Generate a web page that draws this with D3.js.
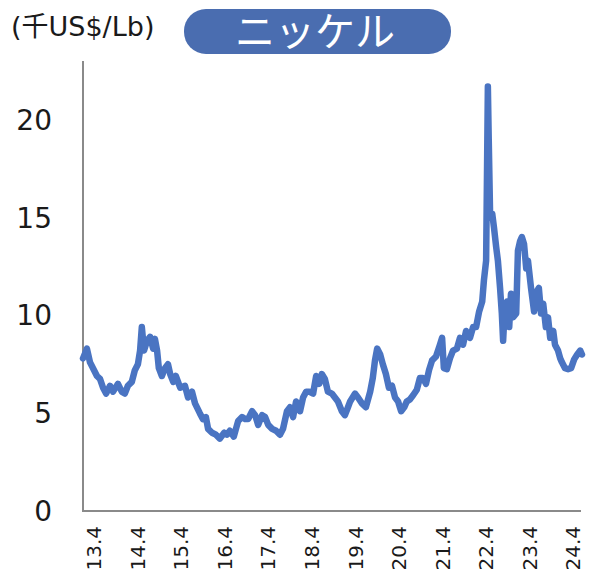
<!DOCTYPE html>
<html><head><meta charset="utf-8">
<script src="https://cdn.jsdelivr.net/npm/d3@7"></script>
<style>
html,body{margin:0;padding:0;background:#fff;}
svg{display:block;}
</style></head>
<body>
<svg id="chart" width="591" height="575"></svg>
<script>
// ---- data ----
const years = [
 2013.00,2013.09,2013.16,2013.23,2013.32,2013.39,2013.46,2013.53,2013.62,2013.69,2013.80,2013.89,2013.96,
 2014.03,2014.12,2014.19,2014.26,2014.31,2014.35,2014.40,2014.47,2014.54,2014.61,2014.65,2014.70,2014.74,2014.81,2014.88,2014.95,
 2015.00,2015.07,2015.13,2015.23,2015.34,2015.41,2015.50,2015.57,2015.68,2015.75,2015.82,2015.87,2015.96,
 2016.05,2016.14,2016.24,2016.30,2016.37,2016.46,2016.56,2016.65,2016.72,2016.79,2016.88,2016.95,
 2017.02,2017.11,2017.18,2017.25,2017.34,2017.43,2017.52,2017.59,2017.68,2017.75,2017.82,2017.89,2017.98,
 2018.05,2018.12,2018.19,2018.28,2018.35,2018.42,2018.48,2018.55,2018.62,2018.71,2018.78,2018.85,2018.94,
 2019.01,2019.08,2019.13,2019.24,2019.31,2019.40,2019.49,2019.59,2019.65,2019.70,2019.75,2019.82,2019.88,2019.95,
 2020.02,2020.09,2020.16,2020.23,2020.30,2020.37,2020.43,2020.50,2020.57,2020.66,2020.73,2020.80,2020.87,2020.94,
 2021.01,2021.10,2021.19,2021.24,2021.28,2021.35,2021.42,2021.49,2021.58,2021.65,2021.72,2021.79,2021.88,2021.95,
 2022.02,2022.09,2022.16,2022.20,2022.25,2022.29,2022.31,2022.34,2022.39,2022.43,2022.48,2022.52,2022.57,2022.61,2022.64,2022.68,2022.73,2022.78,2022.82,2022.87,2022.94,2022.98,
 2023.03,2023.07,2023.12,2023.17,2023.21,2023.28,2023.35,2023.42,2023.46,2023.51,2023.56,2023.62,2023.67,2023.72,2023.79,2023.83,2023.90,2023.95,2023.99,
 2024.06,2024.13,2024.20,2024.27,2024.34,2024.41,2024.45
];
const prices = [
 7.8,8.3,7.6,7.3,6.9,6.75,6.3,6.0,6.4,6.1,6.5,6.1,6.0,
 6.4,6.6,7.2,7.5,8.2,9.4,8.2,8.7,8.9,8.3,8.8,8.2,7.3,6.9,7.3,7.5,
 7.0,6.6,6.9,6.3,6.4,5.8,6.1,5.5,5.0,4.7,4.8,4.2,4.0,
 3.9,3.7,4.0,3.9,4.1,3.8,4.6,4.8,4.7,4.7,5.1,4.9,
 4.4,4.9,4.8,4.4,4.2,4.1,3.9,4.2,5.1,5.3,4.8,5.6,5.1,
 5.8,6.1,6.1,6.0,6.9,6.5,7.0,6.75,6.1,6.0,5.8,5.6,5.1,
 4.9,5.3,5.6,6.0,5.8,5.5,5.3,6.1,6.8,7.7,8.3,8.0,7.5,7.0,
 6.3,6.4,5.8,5.6,5.1,5.3,5.6,5.7,5.9,6.2,6.8,6.8,6.5,7.2,
 7.7,7.9,8.5,8.85,7.3,7.25,7.8,8.2,8.3,8.85,8.5,9.2,8.85,9.4,
 9.4,10.2,10.7,11.8,12.8,21.7,19.0,15.3,15.2,14.5,13.5,12.8,11.4,10.1,8.7,10.4,10.7,9.4,11.1,9.9,10.1,13.3,
 13.8,14.0,13.65,12.4,12.8,11.4,10.2,11.25,11.4,10.1,10.6,9.4,9.9,8.85,9.2,8.5,8.2,7.8,7.6,
 7.3,7.25,7.3,7.75,8.0,8.2,8.0
];
const tickYears  = [2013.25,2014.25,2015.25,2016.25,2017.25,2018.25,2019.25,2020.25,2021.25,2022.25,2023.25,2024.25];
const tickLabels = ["13.4","14.4","15.4","16.4","17.4","18.4","19.4","20.4","21.4","22.4","23.4","24.4"];
const yTicks = [0,5,10,15,20];
const unitLabel = "(千US$/Lb)";
const titleText = "ニッケル";

// ---- drawing ----
const svg = d3.select("#chart");
const x = d3.scaleLinear().domain([2013.0, 2024.45]).range([83, 582]);
const y = d3.scaleLinear().domain([0, 23]).range([511, 61]);

const series = years.map((t,i)=>({t, v: prices[i]}));

// axes lines
const axisColor = "#8a8a8a";
svg.append("line").attr("x1",83).attr("x2",83).attr("y1",y(23)).attr("y2",y(0)+1)
  .attr("stroke",axisColor).attr("stroke-width",2);
svg.append("line").attr("x1",82).attr("x2",581).attr("y1",y(0)).attr("y2",y(0))
  .attr("stroke",axisColor).attr("stroke-width",2);

// y tick labels
svg.append("g").selectAll("text").data(yTicks).join("text")
  .attr("x",52).attr("y",d=>y(d)).attr("dy","0.36em")
  .attr("text-anchor","end")
  .attr("font-family","'DejaVu Sans', Verdana, sans-serif")
  .attr("font-size",28).attr("fill","#1a1a1a")
  .text(d=>d);

// x tick labels (rotated)
svg.append("g").selectAll("text").data(tickYears).join("text")
  .attr("transform",d=>`translate(${x(d)},526) rotate(-90)`)
  .attr("dy","0.36em")
  .attr("text-anchor","end")
  .attr("font-family","'DejaVu Sans', Verdana, sans-serif")
  .attr("font-size",20).attr("fill","#1a1a1a")
  .text((d,i)=>tickLabels[i]);

// line
const line = d3.line().x(d=>x(d.t)).y(d=>y(d.v));
svg.append("path").datum(series)
  .attr("d",line).attr("fill","none")
  .attr("stroke","#4a74c2").attr("stroke-width",6.5)
  .attr("stroke-linejoin","round").attr("stroke-linecap","round");

// unit label
svg.append("text").attr("x",11).attr("y",36)
  .attr("font-family","'DejaVu Sans', 'Noto Sans CJK JP', sans-serif")
  .attr("font-size",27).attr("fill","#1a1a1a")
  .text(unitLabel);

// title button
svg.append("rect").attr("x",184).attr("y",9).attr("width",267).attr("height",45)
  .attr("rx",22).attr("ry",22).attr("fill","#4a6db0");
svg.append("text").attr("x",315).attr("y",31.5).attr("dy","0.36em")
  .attr("text-anchor","middle")
  .attr("font-family","'Noto Sans CJK JP', sans-serif")
  .attr("font-size",40).attr("fill","#ffffff")
  .text(titleText);
</script>
</body></html>
